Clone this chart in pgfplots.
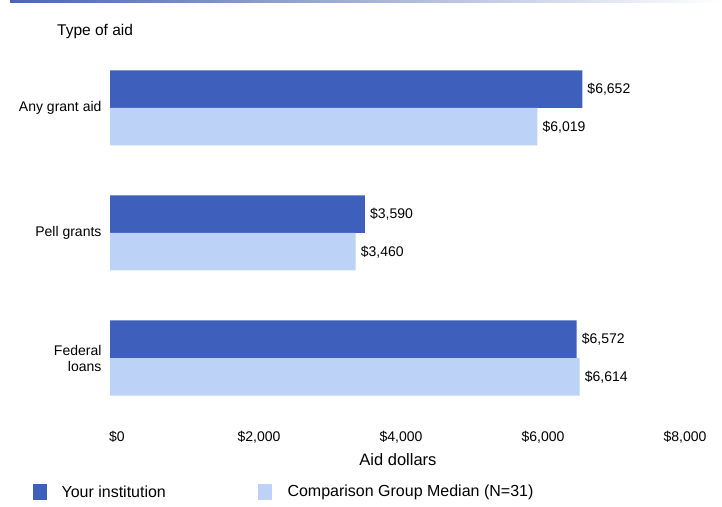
\documentclass[border=0pt]{standalone}
\usepackage{fontspec}
\setmainfont{Liberation Sans}
\usepackage{pgfplots}
\pgfplotsset{compat=1.18}
\definecolor{darkbar}{RGB}{62,95,188}
\definecolor{lightbar}{RGB}{188,210,246}
\begin{document}
\begin{tikzpicture}[x=1pt,y=1pt]
\useasboundingbox (0,0) rectangle (722,506);
\shade[left color=darkbar!80!gray, right color=white] (10,503) rectangle (722,506);
\node[anchor=west, font=\fontsize{15.5}{18}\selectfont, inner sep=0pt] at (57,475) {Type of aid};
\begin{axis}[
  at={(110pt,85.5pt)}, anchor=south west,
  scale only axis, width=568pt, height=375pt,
  xbar, bar width=37.5pt,
  xmin=0, xmax=8000, ymin=-0.5, ymax=2.5,
  ytick={0,1,2},
  yticklabels={{Federal\\loans},{Pell grants},{Any grant aid}},
  xtick={0,2000,4000,6000,8000},
  xticklabels={{\$0},{\$2,000},{\$4,000},{\$6,000},{\$8,000}},
  axis line style={draw=none}, major tick length=0pt,
  every tick label/.append style={font=\fontsize{14}{16}\selectfont},
  xticklabel style={yshift=-7pt, xshift=7pt},
  yticklabel style={align=right, xshift=-5pt},
  clip=false,
  point meta=explicit symbolic,
  nodes near coords,
  every node near coord/.append style={font=\fontsize{14}{16}\selectfont, anchor=west, inner sep=2pt, xshift=3pt, text=black},
]
\addplot[fill=darkbar, draw=none, bar shift=18.75pt] coordinates {
  (6572,0) [\$6,572]
  (3590,1) [\$3,590]
  (6652,2) [\$6,652]
};
\addplot[fill=lightbar, draw=none, bar shift=-18.75pt] coordinates {
  (6614,0) [\$6,614]
  (3460,1) [\$3,460]
  (6019,2) [\$6,019]
};
\end{axis}
\node[font=\fontsize{16.5}{19}\selectfont] at (398,46) {Aid dollars};
\fill[darkbar] (33,6) rectangle (47,22);
\node[anchor=west, font=\fontsize{16}{19}\selectfont] at (58,14) {Your institution};
\fill[lightbar] (258,6) rectangle (272,22);
\node[anchor=west, font=\fontsize{16}{19}\selectfont] at (284,14) {Comparison Group Median (N=31)};
\end{tikzpicture}
\end{document}
